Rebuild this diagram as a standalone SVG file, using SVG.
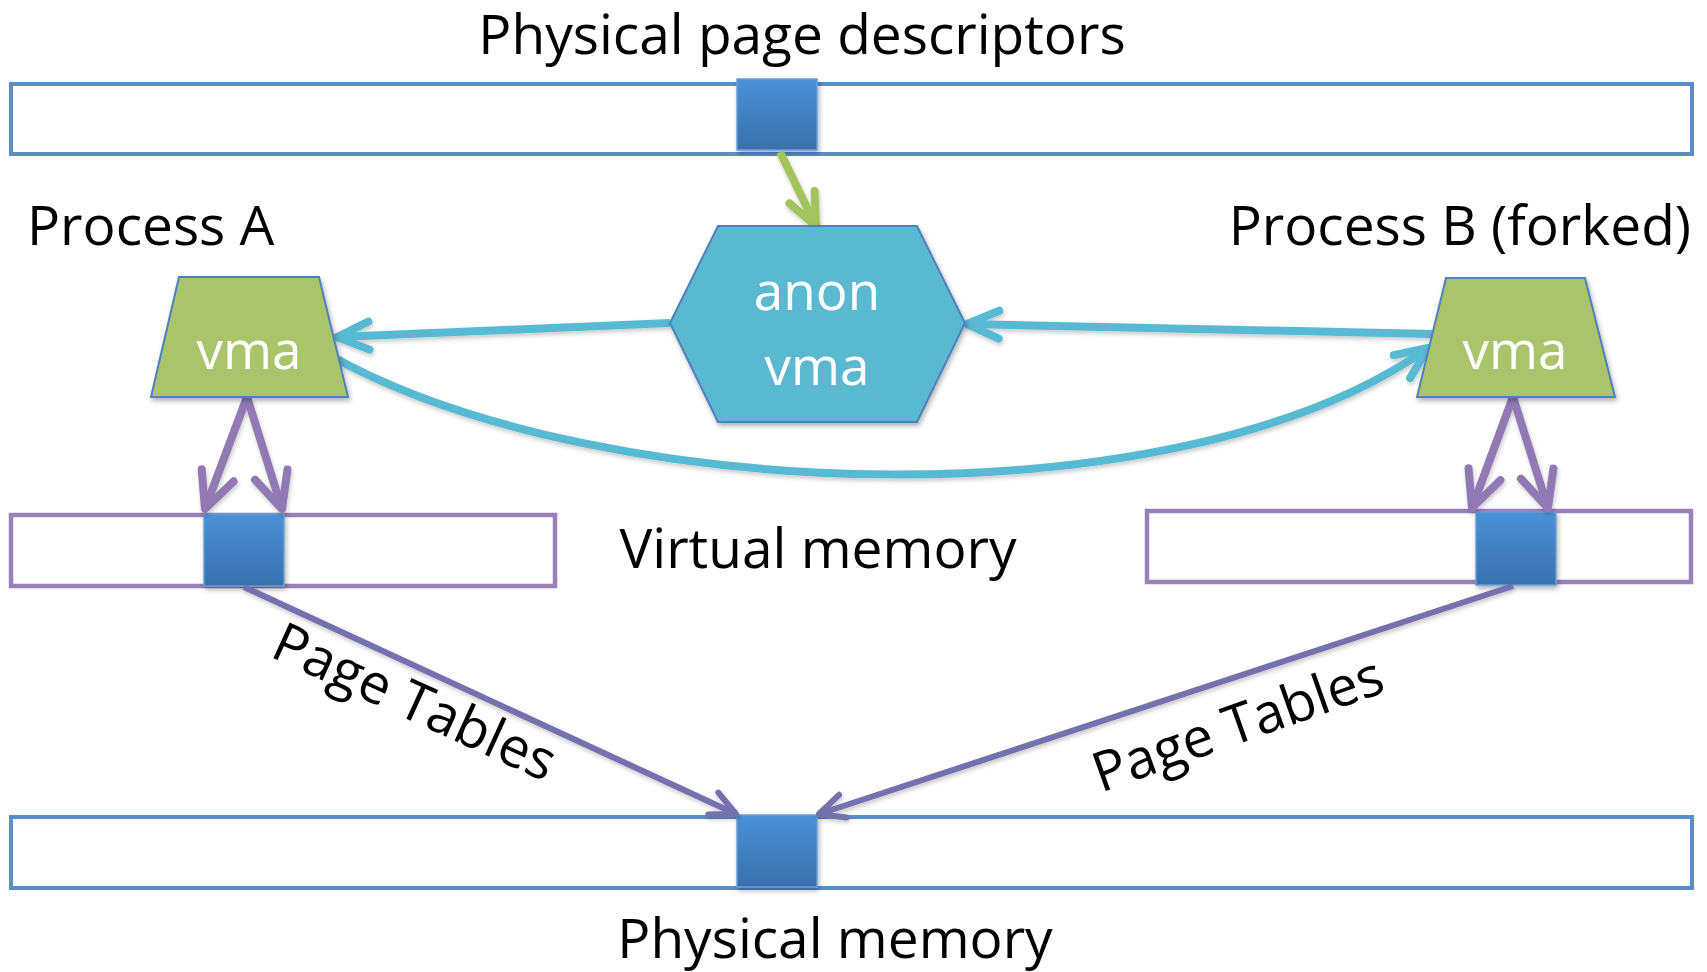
<svg xmlns="http://www.w3.org/2000/svg" width="1707" height="972" viewBox="0 0 1707 972">
<style>
.lbl{font-family:"Open Sans","Liberation Sans",sans-serif;font-size:55px;fill:#000}
.wt{font-family:"Open Sans","Liberation Sans",sans-serif;font-size:53px;fill:#fff;text-anchor:middle}
.bar{fill:#fff;stroke:#5B8DC8;stroke-width:4}
.vbar{fill:#fff;stroke:#9B7FB8;stroke-width:4.5}
.sq{fill:url(#sqg);stroke:#6A9FD8;stroke-width:1.5;filter:url(#sh)}
.trap{fill:#A9C46B;stroke:#4F81BD;stroke-width:2;filter:url(#sh)}
.hex{fill:#5AB8D0;stroke:#4F81BD;stroke-width:2;filter:url(#sh)}
.cy{fill:none;stroke:#58B9D2;stroke-width:8;marker-end:url(#mc)}
.pu{fill:none;stroke:#9179B4;stroke-width:8;marker-end:url(#mp)}
.pt{fill:none;stroke:#7570AE;stroke-width:6;marker-end:url(#mt)}
.gr{fill:none;stroke:#A3C35E;stroke-width:8;marker-end:url(#mg)}
</style>
<defs>
<linearGradient id="sqg" x1="0" y1="0" x2="0" y2="1">
<stop offset="0" stop-color="#4A91D8"/>
<stop offset="1" stop-color="#3970AC"/>
</linearGradient>
<filter id="sh" x="-20%" y="-20%" width="140%" height="140%">
<feDropShadow dx="1.5" dy="3" stdDeviation="2.5" flood-color="#000" flood-opacity="0.3"/>
</filter>
<filter id="lsh" x="-10%" y="-10%" width="120%" height="120%">
<feDropShadow dx="1" dy="2.5" stdDeviation="2" flood-color="#000" flood-opacity="0.22"/>
</filter>
<marker id="mc" markerUnits="userSpaceOnUse" orient="auto" overflow="visible" refX="0" refY="0" markerWidth="1" markerHeight="1">
<path d="M-32,-14 L0,0 L-32,14" fill="none" stroke="#58B9D2" stroke-width="8" stroke-linecap="round" stroke-linejoin="round"/>
</marker>
<marker id="mp" markerUnits="userSpaceOnUse" orient="auto" overflow="visible" refX="0" refY="0" markerWidth="1" markerHeight="1">
<path d="M-36,-17 L0,0 L-36,17" fill="none" stroke="#9179B4" stroke-width="8" stroke-linecap="round" stroke-linejoin="round"/>
</marker>
<marker id="mt" markerUnits="userSpaceOnUse" orient="auto" overflow="visible" refX="0" refY="0" markerWidth="1" markerHeight="1">
<path d="M-25,-12 L0,0 L-25,12" fill="none" stroke="#7570AE" stroke-width="6" stroke-linecap="round" stroke-linejoin="round"/>
</marker>
<marker id="mg" markerUnits="userSpaceOnUse" orient="auto" overflow="visible" refX="0" refY="0" markerWidth="1" markerHeight="1">
<path d="M-32,-14 L0,0 L-32,14" fill="none" stroke="#A3C35E" stroke-width="8" stroke-linecap="round" stroke-linejoin="round"/>
</marker>
</defs>
<rect width="1707" height="972" fill="#fff"/>

<g id="physical-page-descriptors">
<rect class="bar" x="11" y="84" width="1681" height="70"/>
<rect class="sq" x="737" y="79" width="80" height="71"/>
<text class="lbl" x="802" y="54" text-anchor="middle">Physical page descriptors</text>
</g>

<g id="virtual-memory-a">
<rect class="vbar" x="11" y="515" width="544" height="71"/>
<rect class="sq" x="204" y="514" width="80" height="72"/>
</g>

<g id="virtual-memory-b">
<rect class="vbar" x="1147" y="511" width="544" height="71"/>
<rect class="sq" x="1476" y="512" width="80" height="73"/>
</g>

<g id="virtual-memory-label">
<text class="lbl" x="818" y="568" text-anchor="middle">Virtual memory</text>
</g>

<g id="physical-memory">
<rect class="bar" x="11" y="817" width="1681" height="71"/>
<rect class="sq" x="737" y="815" width="80" height="72"/>
<text class="lbl" x="835" y="958" text-anchor="middle">Physical memory</text>
</g>

<g id="process-a">
<text class="lbl" x="27" y="245">Process A</text>
</g>

<g id="process-b">
<text class="lbl" x="1691" y="245" text-anchor="end">Process B (forked)</text>
</g>

<g id="connectors" filter="url(#lsh)">
<line class="gr" x1="780" y1="152" x2="816" y2="226"/>
<line class="cy" x1="670" y1="323" x2="337" y2="337"/>
<line class="cy" x1="1432" y1="334" x2="967" y2="324"/>
<path class="cy" d="M333,357 C600,505 1180,525 1428,348"/>
<line class="pu" x1="247" y1="397" x2="205" y2="509"/>
<line class="pu" x1="247" y1="397" x2="282" y2="509"/>
<line class="pu" x1="1513" y1="397" x2="1472" y2="508"/>
<line class="pu" x1="1513" y1="397" x2="1548" y2="508"/>
<line class="pt" x1="244" y1="587" x2="736" y2="814"/>
<line class="pt" x1="1513" y1="586" x2="819" y2="814"/>
</g>

<g id="vma-a">
<polygon class="trap" points="179,277 319,277 348,397 151,397"/>
<text class="wt" x="249" y="369">vma</text>
</g>

<g id="vma-b">
<polygon class="trap" points="1446,278 1585,278 1615,397 1417,397"/>
<text class="wt" x="1515" y="369">vma</text>
</g>

<g id="anon-vma">
<polygon class="hex" points="718,226 917,226 965,323 917,422 718,422 670,323"/>
<text class="wt" x="817" y="310">anon</text>
<text class="wt" x="817" y="385">vma</text>
</g>

<g id="page-tables-labels">
<text class="lbl" font-size="54" text-anchor="middle" transform="translate(407,719) rotate(24.5)">Page Tables</text>
<text class="lbl" font-size="54" text-anchor="middle" transform="translate(1244,742) rotate(-19.5)">Page Tables</text>
</g>
</svg>
